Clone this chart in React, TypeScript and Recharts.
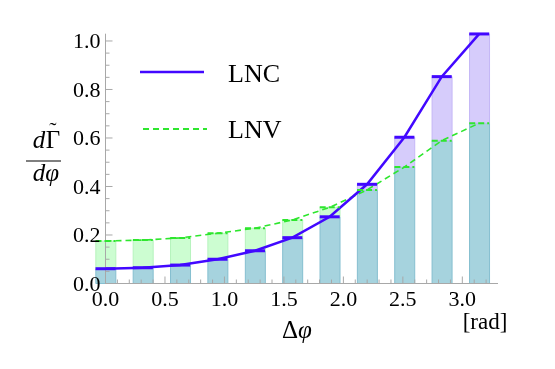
import React from "react";
import {
  Bar,
  ComposedChart,
  Legend,
  Line,
  XAxis,
  YAxis,
} from "recharts";

// bin centres in rad (k * pi / 10)
const phiCenters = [0, 0.314, 0.628, 0.942, 1.257, 1.571, 1.885, 2.199, 2.513, 2.827, 3.142];
const lncValues = [0.061, 0.065, 0.076, 0.1, 0.135, 0.189, 0.275, 0.409, 0.603, 0.853, 1.029];
const lnvValues = [0.175, 0.179, 0.188, 0.207, 0.228, 0.262, 0.314, 0.386, 0.48, 0.589, 0.661];

const xTicks = [
  0, 0.1, 0.2, 0.3, 0.4, 0.5, 0.6, 0.7, 0.8, 0.9, 1.0, 1.1, 1.2, 1.3, 1.4, 1.5, 1.6,
  1.7, 1.8, 1.9, 2.0, 2.1, 2.2, 2.3, 2.4, 2.5, 2.6, 2.7, 2.8, 2.9, 3.0, 3.1, 3.2,
];
const xMajor = [0, 0.5, 1.0, 1.5, 2.0, 2.5, 3.0];
const yTicks = [
  0, 0.05, 0.1, 0.15, 0.2, 0.25, 0.3, 0.35, 0.4, 0.45, 0.5, 0.55, 0.6, 0.65, 0.7,
  0.75, 0.8, 0.85, 0.9, 0.95, 1.0,
];
const yMajor = [0, 0.2, 0.4, 0.6, 0.8, 1.0];

const LNC_COLOR = "#4208ff";
const LNV_COLOR = "#2ee62e";
const AXIS_COLOR = "#a8a8a8";

const css = `
html body #root div.chart-box svg text.serif,
html body #root div.chart-box svg text.serif tspan,
html body #root div.chart-box .serif {
  font-family: "Liberation Serif" !important;
}
`;

// overlap part + the excess of whichever curve is higher
const chartData = phiCenters.map((phi, i) => ({
  phi,
  lnc: lncValues[i],
  lnv: lnvValues[i],
  both: Math.min(lncValues[i], lnvValues[i]),
  greenExtra: Math.max(0, lnvValues[i] - lncValues[i]),
  purpleExtra: Math.max(0, lncValues[i] - lnvValues[i]),
}));

const isIn = (list: number[], v: number) => list.some((m) => Math.abs(m - v) < 1e-6);

const XTick = (props: any) => {
  const { x, y, payload } = props;
  const major = isIn(xMajor, payload.value);
  return (
    <g>
      <line x1={x} x2={x} y1={y} y2={y - (major ? 7 : 4)} stroke={AXIS_COLOR} />
      {major && (
        <text className="serif" fontFamily="Liberation Serif" x={x} y={y + 22} textAnchor="middle" fontSize={22} fill="#000">
          {payload.value.toFixed(1)}
        </text>
      )}
    </g>
  );
};

const YTick = (props: any) => {
  const { x, y, payload } = props;
  const major = isIn(yMajor, payload.value);
  return (
    <g>
      <line x1={x} x2={x + (major ? 7 : 4)} y1={y} y2={y} stroke={AXIS_COLOR} />
      {major && (
        <text className="serif" fontFamily="Liberation Serif" x={x - 5} y={y + 7.5} textAnchor="end" fontSize={22} fill="#000">
          {payload.value.toFixed(1)}
        </text>
      )}
    </g>
  );
};

const LncCap = (p: any) => (
  <line key={`lnc-${p.index}`} x1={p.cx - 10} x2={p.cx + 10} y1={p.cy} y2={p.cy} stroke={LNC_COLOR} strokeWidth={3} />
);

const LnvCap = (p: any) => (
  <line
    key={`lnv-${p.index}`}
    x1={p.cx - 10}
    x2={p.cx + 10}
    y1={p.cy}
    y2={p.cy}
    stroke={LNV_COLOR}
    strokeWidth={2}
    strokeDasharray="6 3"
  />
);

const legendContent = () => (
  <svg width={180} height={110}>
    <line x1={5} x2={69} y1={27} y2={27} stroke={LNC_COLOR} strokeWidth={2.5} />
    <text className="serif" fontFamily="Liberation Serif" x={93} y={36.5} fontSize={26}>LNC</text>
    <line x1={8} x2={72} y1={84} y2={84} stroke={LNV_COLOR} strokeWidth={2} strokeDasharray="6 4" />
    <text className="serif" fontFamily="Liberation Serif" x={93} y={93} fontSize={26}>LNV</text>
  </svg>
);

const XLabel = () => (
  <g fill="#000">
    <text className="serif" fontFamily="Liberation Serif" x={297} y={338} textAnchor="middle" fontSize={25}>
      Δ<tspan fontStyle="italic">φ</tspan>
    </text>
    <text className="serif" fontFamily="Liberation Serif" x={485} y={329} textAnchor="middle" fontSize={23}>[rad]</text>
  </g>
);

const YLabel = () => (
  <g fill="#000" fontSize={25}>
    <text className="serif" fontFamily="Liberation Serif" x={39} y={148} textAnchor="middle" fontStyle="italic">d</text>
    <text className="serif" fontFamily="Liberation Serif" x={53} y={148} textAnchor="middle">Γ</text>
    <text className="serif" fontFamily="Liberation Serif" x={53} y={137} textAnchor="middle" fontSize={22}>˜</text>
    <line x1={26} x2={61} y1={161} y2={161} stroke="#000" strokeWidth={1.2} />
    <text className="serif" fontFamily="Liberation Serif" x={46} y={181} textAnchor="middle" fontStyle="italic">dφ</text>
  </g>
);

export default function App() {
  return (
    <div className="chart-box" style={{ position: "fixed", left: 0, top: 0 }}>
      <style>{css}</style>
      <ComposedChart
        width={555}
        height={369}
        data={chartData}
        margin={{ top: 33.7, right: 57, bottom: 45.5, left: 45.5 }}
      >
        <XAxis
          dataKey="phi"
          type="number"
          domain={[0, 3.3]}
          ticks={xTicks}
          interval={0}
          tick={<XTick />}
          tickSize={0}
          tickMargin={0}
          tickLine={false}
          axisLine={{ stroke: AXIS_COLOR }}
          height={40}
          label={<XLabel />}
        />
        <YAxis
          type="number"
          domain={[0, 1.03]}
          ticks={yTicks}
          interval={0}
          tick={<YTick />}
          tickSize={0}
          tickMargin={0}
          tickLine={false}
          axisLine={{ stroke: AXIS_COLOR }}
          width={60}
          label={<YLabel />}
        />
        <Legend
          layout="vertical"
          align="center"
          verticalAlign="middle"
          content={legendContent}
          wrapperStyle={{ left: 135, top: 45, width: 180, height: 110 }}
        />
        <Bar dataKey="both" stackId="h" barSize={20} fill="#a6d3de" stroke="#86bfd0" isAnimationActive={false} />
        <Bar dataKey="greenExtra" stackId="h" barSize={20} fill="#ccfdd1" stroke="#b6f3bd" isAnimationActive={false} />
        <Bar dataKey="purpleExtra" stackId="h" barSize={20} fill="#d6ccfb" stroke="#c5b7f6" isAnimationActive={false} />
        <Line
          dataKey="lnv"
          type="linear"
          stroke={LNV_COLOR}
          strokeWidth={1.6}
          strokeDasharray="6 4"
          dot={LnvCap}
          activeDot={false}
          isAnimationActive={false}
        />
        <Line
          dataKey="lnc"
          type="linear"
          stroke={LNC_COLOR}
          strokeWidth={2.5}
          dot={LncCap}
          activeDot={false}
          isAnimationActive={false}
        />
      </ComposedChart>
    </div>
  );
}
